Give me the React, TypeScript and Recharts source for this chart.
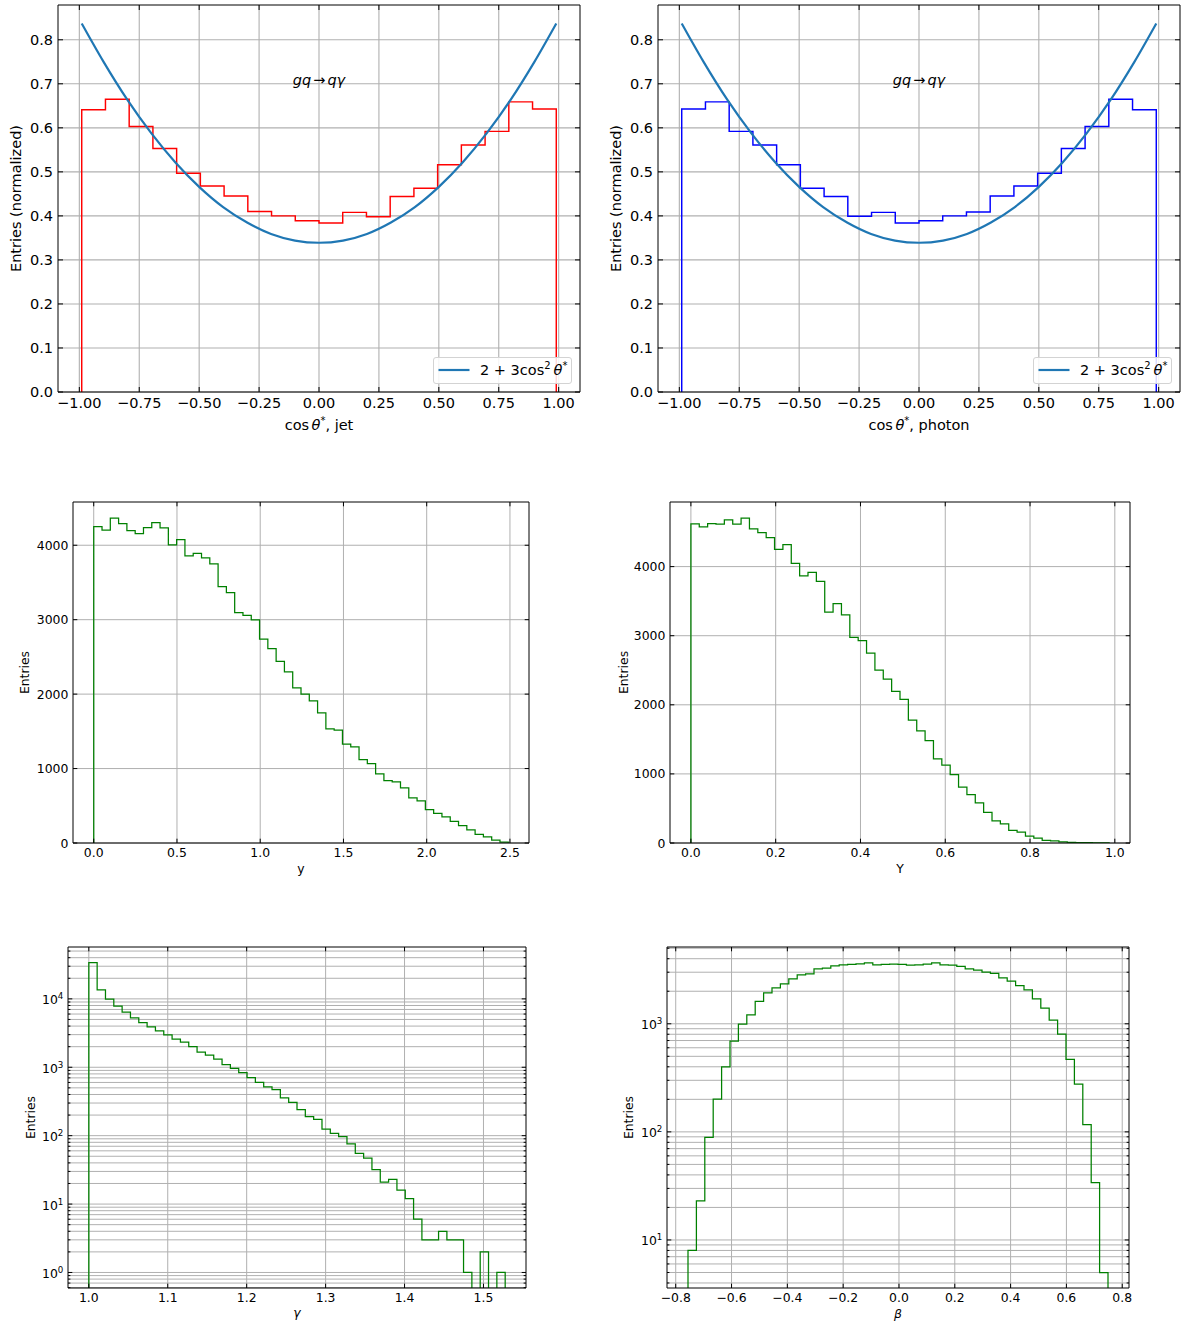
import React from 'react';
import { LineChart, Line, XAxis, YAxis, ReferenceLine, ReferenceDot, Legend } from 'recharts';

const FONT = '"DejaVu Sans", "Liberation Sans", sans-serif';
const MINUS = '\u2212';
const C0 = '#1f77b4';
const GRID = '#b0b0b0';

// ---------------- data ----------------
// cos(theta*) histograms: 20 bins over [-0.99, 0.99]
const cosBinRange: [number, number] = [-0.99, 0.99];
const jetCosValues = [0.641, 0.665, 0.603, 0.553, 0.497, 0.468, 0.445, 0.410, 0.400, 0.389,
  0.384, 0.408, 0.398, 0.444, 0.463, 0.516, 0.561, 0.592, 0.659, 0.643];
const photonCosValues = [0.643, 0.659, 0.592, 0.561, 0.516, 0.463, 0.444, 0.399, 0.408, 0.384,
  0.389, 0.400, 0.409, 0.445, 0.468, 0.497, 0.553, 0.603, 0.665, 0.641];
// 2 + 3cos^2 theta* (normalized)
const curveCos = [-0.99, -0.9, -0.8, -0.7, -0.6, -0.5, -0.4, -0.3, -0.2, -0.1, 0,
  0.1, 0.2, 0.3, 0.4, 0.5, 0.6, 0.7, 0.8, 0.9, 0.99];
const curveValues = [0.837, 0.751, 0.664, 0.588, 0.522, 0.466, 0.420, 0.385, 0.359, 0.344, 0.339,
  0.344, 0.359, 0.385, 0.420, 0.466, 0.522, 0.588, 0.664, 0.751, 0.837];

// rapidity y: 50 bins over [0, 2.49]
const rapidityRange: [number, number] = [0, 2.49];
const rapidityValues = [4251, 4202, 4363, 4291, 4197, 4157, 4238, 4305, 4233, 4004,
  4076, 3857, 3892, 3830, 3749, 3444, 3363, 3094, 3058, 2996,
  2740, 2610, 2439, 2300, 2085, 2000, 1910, 1749, 1534, 1516,
  1327, 1291, 1121, 1067, 928, 839, 821, 740, 605, 565,
  448, 399, 350, 291, 233, 175, 117, 81, 40, 13];

// Y: 50 bins over [0, 0.9865]
const bigYRange: [number, number] = [0, 0.9865];
const bigYValues = [4618, 4575, 4623, 4614, 4676, 4614, 4700, 4546, 4493, 4420,
  4251, 4319, 4048, 3865, 3918, 3787, 3343, 3464, 3300, 2976,
  2928, 2749, 2502, 2372, 2193, 2077, 1778, 1623, 1483, 1217,
  1126, 990, 807, 700, 580, 444, 319, 275, 184, 159,
  101, 72, 39, 29, 15, 10, 5, 4, 2, 1];

// gamma: 50 bins over [1.0, 1.5275]
const gammaRange: [number, number] = [1.0, 1.5275];
const gammaValues = [34000, 13550, 9890, 7810, 6380, 5270, 4505, 3893, 3403, 2974,
  2570, 2323, 2006, 1659, 1499, 1310, 1095, 967, 835, 706,
  603, 515, 471, 356, 307, 240, 190, 173, 125, 108,
  97, 76, 55, 47, 32, 21, 23, 16, 12, 6,
  3, 3, 4, 3, 3, 1, 0, 2, 0, 1];

// beta: 50 bins over [-0.756, 0.749]
const betaRange: [number, number] = [-0.756, 0.749];
const betaValues = [8, 23, 89, 201, 400, 692, 993, 1211, 1608, 1935,
  2153, 2343, 2608, 2840, 2899, 3223, 3271, 3437, 3510, 3537,
  3589, 3667, 3510, 3537, 3565, 3537, 3485, 3510, 3565, 3667,
  3510, 3485, 3390, 3223, 3131, 3004, 2920, 2661, 2478, 2260,
  2061, 1703, 1397, 1081, 802, 468, 277, 117, 34, 5];

// ticks
const cosTicks = [-1, -0.75, -0.5, -0.25, 0, 0.25, 0.5, 0.75, 1];
const normTicks = [0, 0.1, 0.2, 0.3, 0.4, 0.5, 0.6, 0.7, 0.8];
const rapidityTicks = [0, 0.5, 1, 1.5, 2, 2.5];
const bigYTicks = [0, 0.2, 0.4, 0.6, 0.8, 1.0];
const countTicks = [0, 1000, 2000, 3000, 4000];
const gammaTicks = [1.0, 1.1, 1.2, 1.3, 1.4, 1.5];
const gammaCountTicks = [0.6, 0.7, 0.8, 0.9, 1, 2, 3, 4, 5, 6, 7, 8, 9, 10,
  20, 30, 40, 50, 60, 70, 80, 90, 100, 200, 300, 400, 500, 600, 700, 800, 900, 1000,
  2000, 3000, 4000, 5000, 6000, 7000, 8000, 9000, 10000, 20000, 30000, 40000, 50000];
const betaTicks = [-0.8, -0.6, -0.4, -0.2, 0, 0.2, 0.4, 0.6, 0.8];
const betaCountTicks = [4, 5, 6, 7, 8, 9, 10, 20, 30, 40, 50, 60, 70, 80, 90, 100,
  200, 300, 400, 500, 600, 700, 800, 900, 1000, 2000, 3000, 4000, 5000];

// ---------------- helpers ----------------
type Pt = { x: number; y: number };
function stepOutline(range: [number, number], values: number[], floor: number): Pt[] {
  const n = values.length;
  const w = (range[1] - range[0]) / n;
  const edge = (i: number) => range[0] + i * w;
  const pts: Pt[] = [{ x: edge(0), y: floor }];
  values.forEach((v, i) => {
    const y = v > 0 ? v : floor;
    pts.push({ x: edge(i), y });
    pts.push({ x: edge(i + 1), y });
  });
  pts.push({ x: edge(n), y: floor });
  return pts;
}
const curveData: Pt[] = curveCos.map((x, i) => ({ x, y: curveValues[i] }));

const signed = (v: number, d: number) => (v < 0 ? MINUS : '') + Math.abs(v).toFixed(d);
const isPow10 = (v: number) => Math.abs(Math.log10(v) - Math.round(Math.log10(v))) < 1e-9;

type Series = { data: Pt[]; color: string; width: number; curve?: boolean; name?: string };
type Cfg = {
  key: string;
  box: { left: number; top: number; w: number; h: number };
  font: number;
  xDomain: [number, number];
  yDomain: [number, number];
  xTicks: number[];
  yTicks: number[];
  log?: boolean;
  xFmt: (v: number) => string;
  yFmt: (v: number) => string;
  majorLen: number;
  minorLen: number;
  pad: number;
  xTickBaseline: number;
  lineW: number;
  xLabel: React.ReactNode;
  xLabelOffset: number;
  yLabel: string;
  yLabelOffset: number;
  series: Series[];
  legendColor?: string;
  note?: { x: number; y: number };
};

const PAD_L = 60, PAD_T = 6, PAD_R = 6, PAD_B = 48;

function cosLabel(suffix: string) {
  return (
    <>
      <tspan>cos</tspan>
      <tspan dx={2.5} fontStyle="italic">θ</tspan>
      <tspan dy={-6} fontSize={10}>*</tspan>
      <tspan dy={6}>, {suffix}</tspan>
    </>
  );
}

function LegendBox({ color, font }: { color: string; font: number }) {
  return (
    <div style={{ width: 139, height: 27, boxSizing: 'border-box', border: '1px solid #d3d3d3', borderRadius: 3, background: 'rgba(255,255,255,0.85)', position: 'relative' }}>
      <svg width={139} height={27} style={{ position: 'absolute', left: -1, top: -1 }}>
        <line x1={5.5} x2={36.5} y1={13} y2={13} stroke={color} strokeWidth={2.2} />
        <text x={47} y={17.5} fontFamily={FONT} fontSize={font} fill="#000">
          <tspan>2 + 3cos</tspan>
          <tspan dy={-6} fontSize={10}>2</tspan>
          <tspan dy={6} dx={3} fontStyle="italic">θ</tspan>
          <tspan dy={-6} fontSize={10}>*</tspan>
        </text>
      </svg>
    </div>
  );
}

function Panel({ p }: { p: Cfg }) {
  const { left, top, w, h } = p.box;
  const cw = w + PAD_L + PAD_R;
  const ch = h + PAD_T + PAD_B;
  const tickW = 1;

  const xTick = (props: any) => {
    const { x, y, payload } = props;
    return (
      <g>
        <line x1={x} x2={x} y1={y} y2={y - p.majorLen} stroke="#000" strokeWidth={tickW} />
        <line x1={x} x2={x} y1={y - h} y2={y - h + p.majorLen} stroke="#000" strokeWidth={tickW} />
        <text x={x} y={y + p.xTickBaseline} textAnchor="middle" fontFamily={FONT} fontSize={p.font} fill="#000">
          {p.xFmt(payload.value)}
        </text>
      </g>
    );
  };

  const yTick = (props: any) => {
    const { x, y, payload } = props;
    const v = payload.value as number;
    const major = p.log ? isPow10(v) : true;
    const len = major ? p.majorLen : p.minorLen;
    let label: React.ReactNode = null;
    if (major) {
      if (p.log) {
        label = (
          <text x={x - p.pad} y={y + 5.5} textAnchor="end" fontFamily={FONT} fontSize={p.font} fill="#000">
            <tspan>10</tspan>
            <tspan dy={-5} fontSize={p.font * 0.7}>{Math.round(Math.log10(v))}</tspan>
          </text>
        );
      } else {
        label = (
          <text x={x - p.pad} y={y + p.font * 0.365} textAnchor="end" fontFamily={FONT} fontSize={p.font} fill="#000">
            {p.yFmt(v)}
          </text>
        );
      }
    }
    return (
      <g>
        <line x1={x} x2={x + len} y1={y} y2={y} stroke="#000" strokeWidth={tickW} />
        <line x1={x + w} x2={x + w - len} y1={y} y2={y} stroke="#000" strokeWidth={tickW} />
        {label}
      </g>
    );
  };

  const xLabelFn = () => (
    <text x={PAD_L + w / 2} y={PAD_T + h + p.xLabelOffset} textAnchor="middle" fontFamily={FONT} fontSize={p.font} fill="#000">
      {p.xLabel}
    </text>
  );
  const yLabelFn = () => {
    const bx = PAD_L - p.yLabelOffset;
    const cy = PAD_T + h / 2;
    return (
      <text x={bx} y={cy} transform={`rotate(-90 ${bx} ${cy})`} textAnchor="middle" fontFamily={FONT} fontSize={p.font} fill="#000">
        {p.yLabel}
      </text>
    );
  };

  const gridX = p.xTicks;
  const gridY = p.yTicks;

  return (
    <div style={{ position: 'absolute', left: left - PAD_L, top: top - PAD_T, width: cw, height: ch }}>
      <LineChart width={cw} height={ch} margin={{ top: PAD_T, right: PAD_R, left: 0, bottom: 0 }}>
        <XAxis
          type="number"
          dataKey="x"
          domain={p.xDomain}
          allowDataOverflow
          ticks={p.xTicks}
          interval={0}
          height={PAD_B}
          tickSize={0}
          tickMargin={0}
          tickLine={false}
          axisLine={{ stroke: '#000', strokeWidth: 1 }}
          tick={xTick}
          label={{ content: xLabelFn }}
        />
        <YAxis
          type="number"
          scale={p.log ? 'log' : 'linear'}
          domain={p.yDomain}
          allowDataOverflow
          ticks={p.yTicks}
          interval={0}
          width={PAD_L}
          tickSize={0}
          tickMargin={0}
          tickLine={false}
          axisLine={{ stroke: '#000', strokeWidth: 1 }}
          tick={yTick}
          label={{ content: yLabelFn }}
        />
        {gridX.map((v) => (
          <ReferenceLine key={'gx' + v} x={v} stroke={GRID} strokeWidth={p.lineW} />
        ))}
        {gridY.map((v) => (
          <ReferenceLine key={'gy' + v} y={v} stroke={GRID} strokeWidth={p.lineW} />
        ))}
        {p.series.map((s, i) => (
          <Line
            key={i}
            data={s.data}
            dataKey="y"
            type={s.curve ? 'monotone' : 'linear'}
            stroke={s.color}
            strokeWidth={s.width}
            dot={false}
            activeDot={false}
            isAnimationActive={false}
            legendType={s.name ? 'line' : 'none'}
            name={s.name || 'hist' + i}
          />
        ))}
        <ReferenceLine x={p.xDomain[1]} stroke="#000" strokeWidth={1} ifOverflow="visible" />
        <ReferenceLine y={p.yDomain[1]} stroke="#000" strokeWidth={1} ifOverflow="visible" />
        {p.note && (
          <ReferenceDot
            x={p.note.x}
            y={p.note.y}
            r={1}
            fill="none"
            stroke="none"
            label={{
              content: (lp: any) => {
                const vb = lp.viewBox || {};
                const cx = (vb.x ?? 0) + (vb.width ?? 0) / 2;
                const cy = (vb.y ?? 0) + (vb.height ?? 0) / 2;
                return (
                  <text x={cx} y={cy + 1} textAnchor="middle" fontFamily={FONT} fontSize={p.font} fill="#000">
                    <tspan fontStyle="italic">gq</tspan>
                    <tspan dx={2}>→</tspan>
                    <tspan dx={2} fontStyle="italic">qγ</tspan>
                  </text>
                );
              },
            }}
          />
        )}
        {p.legendColor && (
          <Legend
            layout="horizontal"
            verticalAlign="middle"
            align="center"
            width={139}
            height={27}
            wrapperStyle={{ left: PAD_L + w - 8.3 - 139, top: PAD_T + h - 8 - 27, width: 139, height: 27 }}
            content={() => <LegendBox color={p.legendColor as string} font={p.font} />}
          />
        )}
      </LineChart>
    </div>
  );
}

const topCommon = {
  font: 14.5,
  xDomain: [-1.089, 1.089] as [number, number],
  yDomain: [0, 0.879] as [number, number],
  xTicks: cosTicks,
  yTicks: normTicks,
  xFmt: (v: number) => signed(v, 2),
  yFmt: (v: number) => v.toFixed(1),
  majorLen: 5,
  minorLen: 2.8,
  pad: 5,
  xTickBaseline: 16,
  lineW: 1.1,
  xLabelOffset: 38,
  yLabel: 'Entries (normalized)',
  yLabelOffset: 37.4,
  legendColor: C0,
  note: { x: 0, y: 0.7 },
};

const midCommon = {
  font: 12.4,
  majorLen: 4.3,
  minorLen: 2.4,
  pad: 4.6,
  xTickBaseline: 14.3,
  lineW: 1,
  xLabelOffset: 30,
  yLabel: 'Entries',
};

const panels: Cfg[] = [
  {
    ...topCommon,
    key: 'jet',
    box: { left: 58, top: 5, w: 522, h: 387 },
    xLabel: cosLabel('jet'),
    series: [
      { data: stepOutline(cosBinRange, jetCosValues, 0), color: '#ff0000', width: 1.45 },
      { data: curveData, color: C0, width: 2.2, curve: true, name: '2 + 3cos²θ*' },
    ],
  },
  {
    ...topCommon,
    key: 'photon',
    box: { left: 658, top: 5, w: 522, h: 387 },
    xLabel: cosLabel('photon'),
    series: [
      { data: stepOutline(cosBinRange, photonCosValues, 0), color: '#0000ff', width: 1.45 },
      { data: curveData, color: C0, width: 2.2, curve: true, name: '2 + 3cos²θ*' },
    ],
  },
  {
    ...midCommon,
    key: 'rapidity',
    box: { left: 73, top: 502, w: 456, h: 341 },
    xDomain: [-0.1245, 2.6145],
    yDomain: [0, 4581],
    xTicks: rapidityTicks,
    yTicks: countTicks,
    xFmt: (v: number) => v.toFixed(1),
    yFmt: (v: number) => String(v),
    xLabel: 'y',
    yLabelOffset: 43.8,
    series: [{ data: stepOutline(rapidityRange, rapidityValues, 0), color: '#008000', width: 1.25 }],
  },
  {
    ...midCommon,
    key: 'bigY',
    box: { left: 670, top: 502, w: 460, h: 341 },
    xDomain: [-0.0493, 1.0358],
    yDomain: [0, 4935],
    xTicks: bigYTicks,
    yTicks: countTicks,
    xFmt: (v: number) => v.toFixed(1),
    yFmt: (v: number) => String(v),
    xLabel: 'Y',
    yLabelOffset: 42.4,
    series: [{ data: stepOutline(bigYRange, bigYValues, 0), color: '#008000', width: 1.25 }],
  },
  {
    ...midCommon,
    key: 'gamma',
    box: { left: 68, top: 947, w: 458, h: 341 },
    xDomain: [0.973625, 1.553875],
    yDomain: [0.593, 57300],
    log: true,
    xTicks: gammaTicks,
    yTicks: gammaCountTicks,
    xFmt: (v: number) => v.toFixed(1),
    yFmt: (v: number) => String(v),
    xTickBaseline: 14,
    xLabel: <tspan fontStyle="italic">γ</tspan>,
    xLabelOffset: 29,
    yLabelOffset: 33.5,
    series: [{ data: stepOutline(gammaRange, gammaValues, 1e-3), color: '#008000', width: 1.25 }],
  },
  {
    ...midCommon,
    key: 'beta',
    box: { left: 667, top: 947, w: 462, h: 341 },
    xDomain: [-0.83125, 0.82425],
    yDomain: [3.594, 5133],
    log: true,
    xTicks: betaTicks,
    yTicks: betaCountTicks,
    xFmt: (v: number) => signed(v, 1),
    yFmt: (v: number) => String(v),
    xTickBaseline: 14,
    xLabel: <tspan fontStyle="italic">β</tspan>,
    xLabelOffset: 29.5,
    yLabelOffset: 34,
    series: [{ data: stepOutline(betaRange, betaValues, 1e-3), color: '#008000', width: 1.25 }],
  },
];

export default function App() {
  return (
    <div style={{ position: 'absolute', left: 0, top: 0, width: 1184, height: 1325, background: '#fff', fontFamily: FONT }}>
      {panels.map((p) => (
        <Panel key={p.key} p={p} />
      ))}
    </div>
  );
}
